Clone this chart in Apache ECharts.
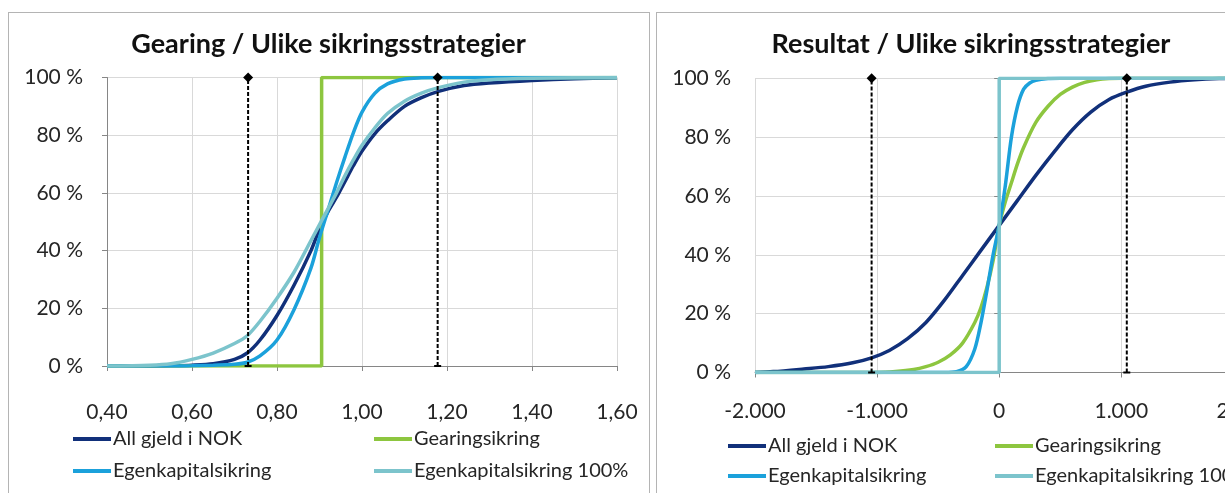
<!DOCTYPE html>
<html>
<head>
<meta charset="utf-8">
<script src="https://cdn.jsdelivr.net/npm/echarts@6.0.0/dist/echarts.min.js"></script>
<style>
  html, body { margin: 0; padding: 0; width: 1225px; height: 493px; overflow: hidden; background: #fff; }
  .chart { position: absolute; top: 0; height: 493px; }
  .panel { position: absolute; top: 12px; height: 600px; box-sizing: border-box; border: 1px solid #b4b4b4; pointer-events: none; }
</style>
</head>
<body>
<div id="left" class="chart" style="left:0; width:657px;"></div>
<div id="right" class="chart" style="left:650px; width:642px;"></div>
<div class="panel" style="left:8px; width:642px;"></div>
<div class="panel" style="left:656px; width:700px;"></div>
<script>
// Venstre diagram: gearing (kumulativ fordeling)
const gearingX = [0.40, 0.50, 0.55, 0.60, 0.65, 0.70, 0.73, 0.76, 0.80, 0.84, 0.88, 0.90, 0.92, 0.94, 0.96, 0.98, 1.00, 1.03, 1.06, 1.10, 1.14, 1.18, 1.24, 1.30, 1.40, 1.50, 1.60];
const gearingAllNok = [0, 0, 0.1, 0.3, 0.8, 2.3, 4.5, 9, 17.5, 28, 40, 47.5, 53.5, 58.5, 64, 69.5, 74.5, 80.5, 85, 90, 93, 95.2, 97.2, 98.1, 99, 99.6, 99.9];
const gearingEgenkap = [0, 0, 0, 0.1, 0.3, 0.6, 1.3, 3.5, 9, 19.5, 34, 44.5, 54, 63.5, 72.5, 81, 88, 94.5, 97.8, 99.5, 99.9, 100, 100, 100, 100, 100, 100];
const gearingEgenkap100 = [0, 0.3, 0.8, 2.3, 4.5, 7.8, 10.5, 15.5, 23.5, 32.5, 43.5, 49, 54.5, 60, 66, 71.5, 76.5, 82.5, 87.5, 91.8, 94.6, 96.5, 98.4, 99.2, 99.7, 99.9, 100];
const gearingSikringX = [0.40, 0.905, 0.905, 1.60];
const gearingSikringY = [0, 0, 100, 100];
const gearingMarkers = [0.732, 1.178]; // stiplede linjer

// Høyre diagram: resultat (kumulativ fordeling)
const resAllNokX = [-2000, -1850, -1600, -1400, -1200, -1045, -900, -750, -600, -450, -300, -150, 0, 150, 300, 450, 600, 750, 900, 1045, 1200, 1400, 1600, 1800, 2000];
const resAllNokY = [0, 0.3, 1.2, 2.0, 3.3, 5.0, 7.5, 11.5, 17, 24.5, 33, 41.5, 50, 58.5, 67, 75, 82.5, 88.5, 92.8, 95.3, 97.3, 98.7, 99.5, 99.9, 100];
const resGearingX = [-2000, -1000, -850, -700, -600, -500, -400, -300, -200, -150, -100, -50, 0, 50, 100, 150, 200, 300, 400, 500, 600, 700, 800, 900, 1000, 2000];
const resGearingY = [0, 0, 0.3, 1, 2, 3.5, 6, 10, 17, 22, 29, 38, 50, 58, 64.5, 71, 76.5, 85, 90.5, 94.5, 97, 98.6, 99.5, 99.9, 100, 100];
const resEgenkapX = [-2000, -450, -350, -270, -200, -150, -100, -50, 0, 50, 100, 150, 200, 250, 300, 400, 500, 2000];
const resEgenkapY = [0, 0, 0.3, 2, 8, 16.8, 28, 40, 50, 63.5, 80, 90.5, 96.3, 98.4, 99.3, 99.9, 100, 100];
const resEgenkap100X = [-2000, 0, 0, 2000];
const resEgenkap100Y = [0, 0, 100, 100];
const resMarkers = [-1045, 1045];

const yTicks = [0, 20, 40, 60, 80, 100];
const seriesNames = ['All gjeld i NOK', 'Gearingsikring', 'Egenkapitalsikring', 'Egenkapitalsikring 100%'];
const colors = ['#11307a', '#8dc63f', '#1ba1db', '#7cc4cc'];

const FONT = 'Lato';
const TEXT = '#262626';

function pairs(xs, ys) {
    return xs.map((x, i) => [x, ys[i]]);
}

function curve(name, data, color, smooth) {
    return {
        name: name,
        type: 'line',
        data: data,
        showSymbol: false,
        smooth: smooth ? 0.3 : false,
        lineStyle: { color: color, width: 3.5 },
        itemStyle: { color: color },
        emphasis: { disabled: true },
    };
}

function marker(x) {
    return {
        type: 'line',
        data: [
            { value: [x, 0], symbol: 'rect', symbolSize: [7, 2] },
            { value: [x, 100], symbol: 'diamond', symbolSize: 10 },
        ],
        showSymbol: true,
        clip: false,
        z: 5,
        lineStyle: { color: '#000', width: 2, type: [4, 2] },
        itemStyle: { color: '#000' },
        emphasis: { disabled: true },
    };
}

function legends(left1, left2, top, gap) {
    const common = {
        orient: 'vertical',
        top: top,
        padding: 0,
        itemGap: gap,
        itemWidth: 38,
        itemHeight: 4,
        icon: 'rect',
        textStyle: { fontFamily: FONT, fontSize: 20, color: TEXT, lineHeight: 22, padding: [0, 0, 0, -3] },
    };
    return [
        Object.assign({ left: left1, data: [seriesNames[0], seriesNames[2]] }, common),
        Object.assign({ left: left2, data: [seriesNames[1], seriesNames[3]] }, common),
    ];
}

function baseOption(title, grid, xAxis, labelMargin) {
    return {
        animation: false,
        title: {
            text: title,
            left: 'center',
            top: 31,
            padding: 0,
            textStyle: { fontFamily: FONT, fontSize: 27, fontWeight: 'bold', color: '#111' },
        },
        grid: Object.assign({ containLabel: false, outerBoundsMode: 'none' }, grid),
        xAxis: Object.assign({
            type: 'value',
            axisLine: { show: true, onZero: false, lineStyle: { color: '#868686' } },
            axisTick: { show: true, length: 5, lineStyle: { color: '#868686' } },
            splitLine: { show: true, lineStyle: { color: '#d9d9d9' } },
        }, xAxis),
        yAxis: {
            type: 'value',
            min: yTicks[0],
            max: yTicks[yTicks.length - 1],
            interval: 20,
            axisLine: { show: true, lineStyle: { color: '#868686' } },
            axisTick: { show: true, length: 5, lineStyle: { color: '#868686' } },
            splitLine: { show: true, lineStyle: { color: '#d9d9d9' } },
            axisLabel: {
                margin: labelMargin,
                fontFamily: FONT,
                fontSize: 21,
                color: TEXT,
                formatter: v => v + ' %',
            },
        },
    };
}

// --- venstre ---
const leftChart = echarts.init(document.getElementById('left'), null, { renderer: 'canvas' });
const leftOption = baseOption('Gearing / Ulike sikringsstrategier',
    { left: 107, right: 40, top: 77.5, bottom: 127 },
    {
        min: 0.4, max: 1.6, interval: 0.2,
        axisLabel: {
            margin: 36, fontFamily: FONT, fontSize: 21, color: TEXT,
            formatter: v => v.toFixed(2).replace('.', ','),
        },
    }, 24);
leftOption.legend = legends(73, 374, 428, 10);
leftOption.series = [
    curve(seriesNames[0], pairs(gearingX, gearingAllNok), colors[0], true),
    curve(seriesNames[1], pairs(gearingSikringX, gearingSikringY), colors[1], false),
    curve(seriesNames[2], pairs(gearingX, gearingEgenkap), colors[2], true),
    curve(seriesNames[3], pairs(gearingX, gearingEgenkap100), colors[3], true),
    marker(gearingMarkers[0]),
    marker(gearingMarkers[1]),
];
leftChart.setOption(leftOption);

// --- høyre ---
function nok(v) {
    if (v === 0) return '0';
    return (v / 1000).toFixed(0) + '.000';
}

const rightChart = echarts.init(document.getElementById('right'), null, { renderer: 'canvas' });
const rightOption = baseOption('Resultat / Ulike sikringsstrategier',
    { left: 105, right: 48.6, top: 78.3, bottom: 120.5 },
    {
        min: -2000, max: 2000, interval: 1000,
        axisLabel: {
            margin: 28, fontFamily: FONT, fontSize: 21, color: TEXT,
            formatter: nok,
        },
    }, 24);
rightOption.legend = legends(78, 345, 435, 8);
rightOption.series = [
    curve(seriesNames[0], pairs(resAllNokX, resAllNokY), colors[0], true),
    curve(seriesNames[1], pairs(resGearingX, resGearingY), colors[1], true),
    curve(seriesNames[2], pairs(resEgenkapX, resEgenkapY), colors[2], true),
    curve(seriesNames[3], pairs(resEgenkap100X, resEgenkap100Y), colors[3], false),
    marker(resMarkers[0]),
    marker(resMarkers[1]),
];
rightChart.setOption(rightOption);
</script>
</body>
</html>
